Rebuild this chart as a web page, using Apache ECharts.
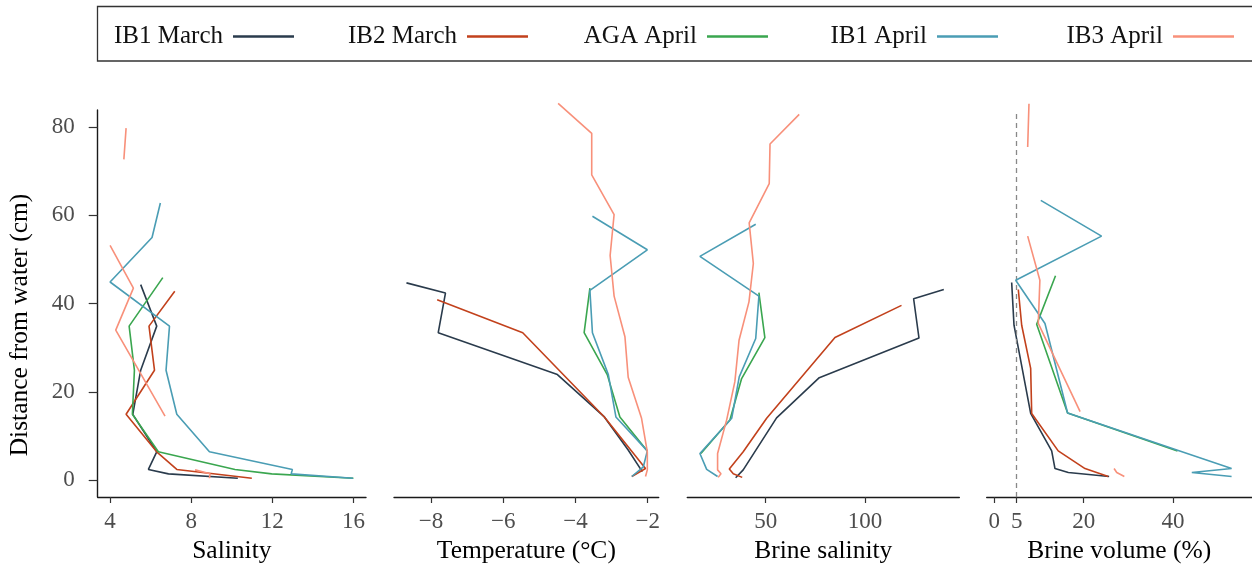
<!DOCTYPE html>
<html><head><meta charset="utf-8">
<script src="https://cdn.jsdelivr.net/npm/echarts@6/dist/echarts.min.js"></script>
<style>html,body{margin:0;padding:0;background:#fff}#c{width:1252px;height:570px}</style>
</head><body><div id="c"></div>
<script>
// ---------- text / categories ----------
const seriesNames = ['IB1 March', 'IB2 March', 'AGA April', 'IB1 April', 'IB3 April'];
const seriesColors = ['#2a3b4c', '#c2411c', '#3aa64f', '#4a9db4', '#f8907a'];
const panelTitles = ['Salinity', 'Temperature (°C)', 'Brine salinity', 'Brine volume (%)'];
const yTitle = 'Distance from water (cm)';

// ---------- tick labels ----------
const depthTicks = [0, 20, 40, 60, 80];
const salinityTicks = [4, 8, 12, 16];
const temperatureTicks = [-8, -6, -4, -2];
const brineSalinityTicks = [50, 100];
const brineVolumeTicks = [0, 5, 20, 40];
const brineVolumeThreshold = 5;

// ---------- data: [value, distance from water (cm)] ----------
const salinity_IB1March = [[5.51,44.3],[6.30,34.9],[5.51,24.9],[5.12,14.9],[6.30,6.4],[5.89,2.4],[6.88,1.4],[10.30,0.4]];
const salinity_IB2March = [[7.19,42.8],[5.92,34.9],[6.19,24.9],[4.79,14.9],[6.30,6.4],[7.29,2.4],[10.99,0.4]];
const salinity_AGAApril = [[6.60,45.9],[4.94,34.9],[5.20,24.9],[5.10,14.9],[6.38,6.4],[10.16,2.4],[11.97,1.4],[16.0,0.4]];
const salinity_IB1April = [[6.48,62.8],[6.07,55.0],[4.00,44.9],[6.93,34.9],[6.76,24.9],[7.29,14.9],[8.90,6.4],[12.99,2.4],[12.93,1.4],[15.98,0.4]];
const salinity_IB3April = [[4.79,79.8],[4.68,72.7],['-','-'],[4.00,53.2],[5.15,43.5],[4.28,34.0],[6.71,14.5],['-','-'],[8.19,2.3],[8.93,1.4],[8.90,0.4]];

const temperature_IB1March = [[-8.68,44.7],[-7.60,42.4],[-7.80,33.4],[-4.50,23.9],[-3.20,14.3],[-2.54,6.8],[-2.15,1.9]];
const temperature_IB2March = [[-7.83,40.9],[-5.46,33.4],[-3.20,14.3],[-2.06,2.6],[-2.44,0.8]];
const temperature_AGAApril = [[-3.60,43.5],[-3.76,33.4],[-3.12,23.9],[-2.77,14.3],[-2.01,6.6]];
const temperature_IB1April = [[-3.53,59.8],[-2.01,52.2],[-3.60,43.0],[-3.53,33.4],[-3.09,23.9],[-2.88,14.3],[-2.01,6.6],[-2.12,3.0],[-2.44,0.8]];
const temperature_IB3April = [[-4.48,85.4],[-3.55,78.6],[-3.55,69.2],[-2.93,60.2],[-3.04,50.9],[-2.93,41.7],[-2.63,32.5],[-2.54,23.3],[-2.17,14.0],[-2.01,6.4],[-2.01,2.3],[-2.06,0.8]];

const brineSalinity_IB1March = [[139.7,43.2],[124.5,41.1],[127.2,32.2],[77.0,23.2],[55.5,14.1],[38.7,2.3],[34.9,0.5]];
const brineSalinity_IB2March = [[118.4,39.6],[84.9,32.3],[50.5,14.0],[38.7,6.4],[31.7,2.5],[33.7,1.4],[38.2,0.6]];
const brineSalinity_AGAApril = [[46.6,42.5],[49.6,32.3],[37.9,23.0],[32.0,13.6],[17.4,6.0]];
const brineSalinity_IB1April = [[45.0,58.0],[16.9,50.7],[46.6,41.7],[45.0,32.1],[36.7,23.4],[32.9,14.0],[16.9,6.0],[20.3,2.4],[25.8,0.8]];
const brineSalinity_IB3April = [[66.9,82.9],[52.2,76.2],[51.8,67.2],[41.7,58.3],[43.8,49.1],[41.6,40.4],[36.6,31.7],[34.5,22.3],[30.4,13.7],[25.8,6.0],[25.8,2.3],[27.5,1.4],[26.1,0.6]];

const brineVolume_IB1March = [[3.89,44.8],[4.41,35.1],[8.14,15.1],[12.84,6.6],[13.58,2.6],[16.56,1.7],[25.7,0.8]];
const brineVolume_IB2March = [[5.37,43.2],[6.13,35.1],[8.14,25.3],[8.37,15.1],[14.3,6.6],[20.3,2.6],[25.5,0.8]];
const brineVolume_AGAApril = [[13.7,46.3],[9.48,35.3],[16.4,15.2],[41.0,6.6]];
const brineVolume_IB1April = [[10.4,63.4],[24.0,55.3],[4.79,45.3],[11.34,35.5],[16.4,15.2],[41.5,6.6],[53.1,2.6],[44.2,1.7],[53.1,0.8]];
const brineVolume_IB3April = [[7.76,85.3],[7.47,75.5],['-','-'],[7.47,55.3],[10.2,45.3],[9.84,35.5],[19.2,15.5],['-','-'],[26.8,2.6],[27.4,1.7],[29.1,0.8]];

// ---------- assembly ----------
const panelData = [
  [salinity_IB1March, salinity_IB2March, salinity_AGAApril, salinity_IB1April, salinity_IB3April],
  [temperature_IB1March, temperature_IB2March, temperature_AGAApril, temperature_IB1April, temperature_IB3April],
  [brineSalinity_IB1March, brineSalinity_IB2March, brineSalinity_AGAApril, brineSalinity_IB1April, brineSalinity_IB3April],
  [brineVolume_IB1March, brineVolume_IB2March, brineVolume_AGAApril, brineVolume_IB1April, brineVolume_IB3April]
];
const panelTicks = [salinityTicks, temperatureTicks, brineSalinityTicks, brineVolumeTicks];
const xRanges = [[3.39, 16.62], [-9.025, -1.695], [10.55, 147.5], [-1.7, 57.6]];
const yRange = [-3.85, 83.9];
const gridBoxes = [[97.7, 268.3], [394, 264.7], [687.3, 272], [986.7, 265]];

const FONT = 'Liberation Serif';
const labelColor = '#4d4d4d';
const axisColor = '#1a1a1a';

const grids = gridBoxes.map(([l, w]) => ({left: l, width: w, top: 110, height: 387, containLabel: false}));

const xAxes = panelTicks.map((ticks, i) => ({
  type: 'value', gridIndex: i, min: xRanges[i][0], max: xRanges[i][1],
  name: panelTitles[i], nameLocation: 'middle', nameGap: 41,
  nameTextStyle: {fontFamily: FONT, fontSize: 25.5, color: '#000'},
  axisLine: {show: true, onZero: false, lineStyle: {color: axisColor, width: 1.4}},
  axisTick: {show: true, customValues: ticks, length: 6, lineStyle: {color: '#333', width: 1.2}},
  axisLabel: {show: true, customValues: ticks, margin: 13, fontFamily: FONT, fontSize: 23, color: labelColor,
    formatter: v => String(v).replace('-', '\u2212')},
  splitLine: {show: false}
}));

const yAxes = panelTicks.map((t, i) => i === 0 ? ({
  type: 'value', gridIndex: 0, min: yRange[0], max: yRange[1],
  name: yTitle, nameLocation: 'middle', nameGap: 64, nameRotate: 90,
  nameTextStyle: {fontFamily: FONT, fontSize: 25.5, color: '#000', padding: [0, 43, 0, 0]},
  axisLine: {show: true, onZero: false, lineStyle: {color: axisColor, width: 1.4}},
  axisTick: {show: true, customValues: depthTicks, length: 9, lineStyle: {color: '#333', width: 1.2}},
  axisLabel: {show: true, customValues: depthTicks, margin: 23, fontFamily: FONT, fontSize: 23, color: labelColor},
  splitLine: {show: false}
}) : ({
  type: 'value', gridIndex: i, min: yRange[0], max: yRange[1], show: false, splitLine: {show: false}
}));

const series = [];
panelData.forEach((arrs, p) => {
  arrs.forEach((d, s) => {
    series.push({
      type: 'line', name: seriesNames[s], xAxisIndex: p, yAxisIndex: p, data: d,
      symbol: 'none', showSymbol: false, clip: false, connectNulls: false,
      color: seriesColors[s], lineStyle: {color: seriesColors[s], width: 1.6},
      emphasis: {disabled: true}, z: 2 + s
    });
  });
});
// dashed threshold line in brine volume panel
series.push({
  type: 'line', xAxisIndex: 3, yAxisIndex: 3, data: [], silent: true,
  markLine: {symbol: 'none', silent: true, label: {show: false},
    lineStyle: {type: [5, 4], color: '#888', width: 1.3},
    data: [{xAxis: brineVolumeThreshold}]}
});

const lineEnds = [294, 528, 768, 998, 1234];
const legends = seriesNames.map((n, i) => ({
  data: [n], right: 1252 - lineEnds[i], top: 24, padding: 0, align: 'right',
  icon: 'rect', itemWidth: 61, itemHeight: 2.5, selectedMode: false,
  textStyle: {fontFamily: FONT, fontSize: 25, color: '#111', padding: [0, 5, 0, 0]}
}));

const chart = echarts.init(document.getElementById('c'), null, {renderer: 'canvas'});
chart.setOption({
  animation: false,
  backgroundColor: '#fff',
  textStyle: {fontFamily: FONT},
  grid: grids, xAxis: xAxes, yAxis: yAxes, series: series, legend: legends,
  graphic: [{type: 'rect', shape: {x: 97.5, y: 6.5, width: 1170, height: 54.5},
    style: {fill: 'none', stroke: '#333', lineWidth: 1.3}, silent: true, z: -1}]
});
</script></body></html>
